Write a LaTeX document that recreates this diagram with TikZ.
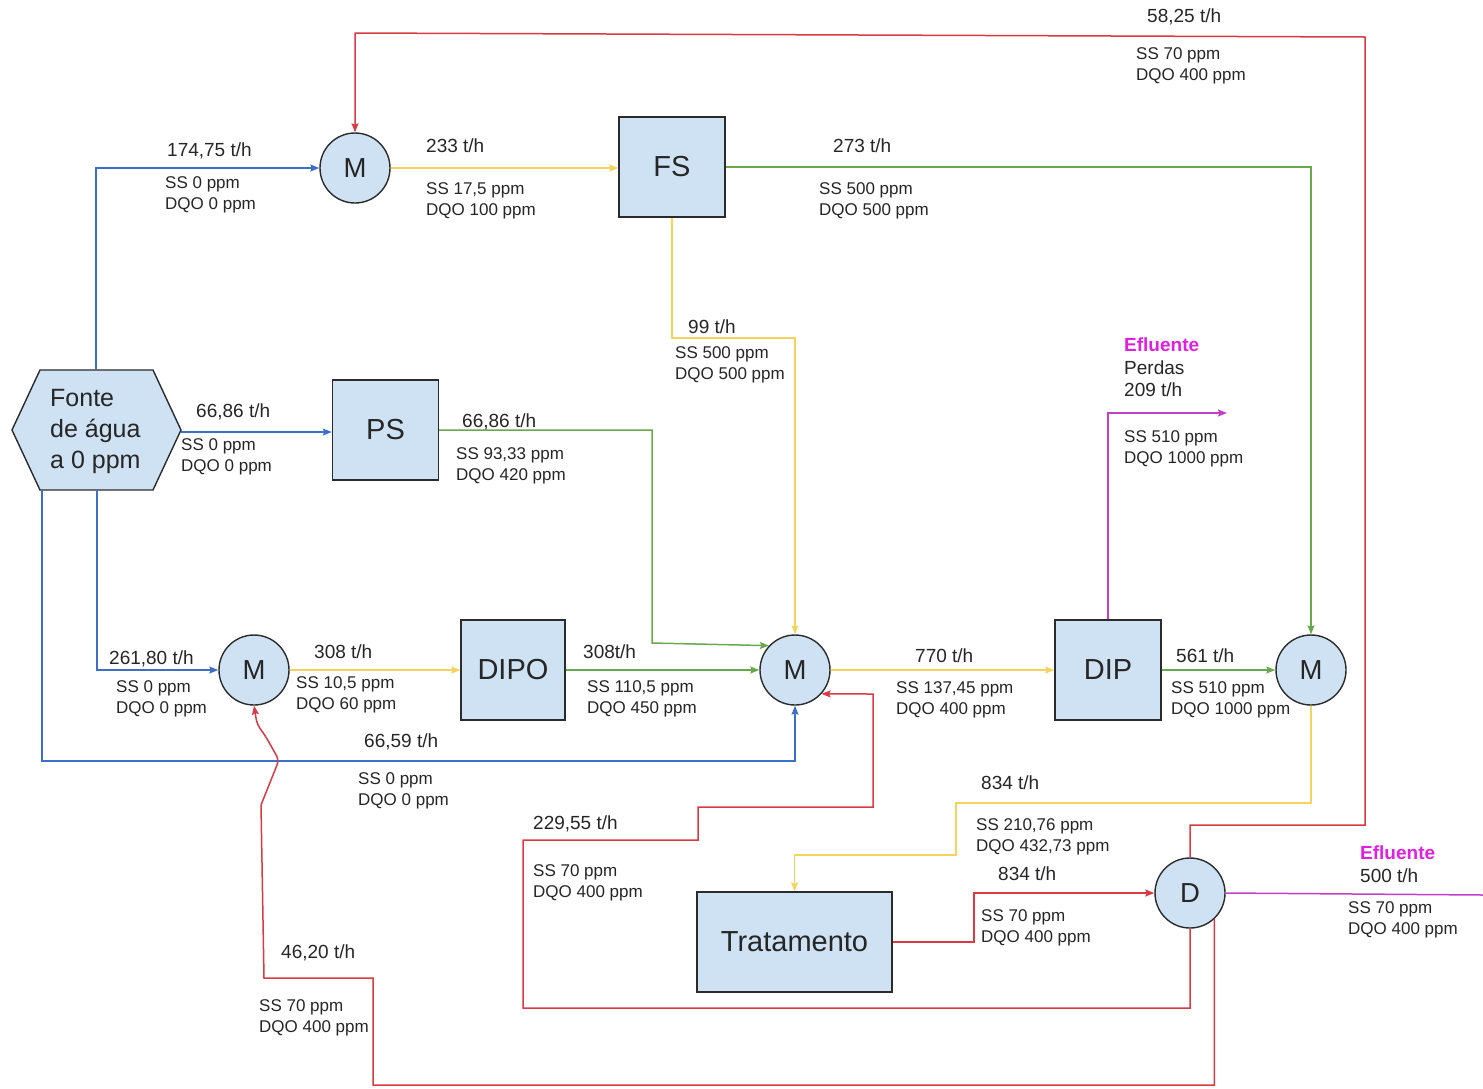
\documentclass[tikz,border=0pt]{standalone}
\usepackage{fontspec}
\setmainfont{Liberation Sans}
\usetikzlibrary{arrows.meta,calc}
\definecolor{nodefill}{HTML}{CFE2F3}
\definecolor{outline}{HTML}{2B2B2B}
\definecolor{txt}{HTML}{262626}
\definecolor{pipeblue}{HTML}{3D6FC6}
\definecolor{pipered}{HTML}{D93A45}
\definecolor{pipegreen}{HTML}{6AA84F}
\definecolor{pipeyellow}{HTML}{F4D35E}
\definecolor{pipemag}{HTML}{C23FC8}
\definecolor{efl}{HTML}{E020E0}

\begin{document}
\begin{tikzpicture}[x=1pt,y=-1pt,
  unit/.style={draw=outline, line width=1.4pt, fill=nodefill, minimum width=106pt,
    minimum height=100pt, inner sep=0pt, text=txt, font=\fontsize{29}{32}\selectfont},
  mixer/.style={circle, draw=outline, line width=1.4pt, fill=nodefill, minimum size=70pt,
    inner sep=0pt, text=txt, font=\fontsize{27.5}{30}\selectfont},
  pipe/.style={line width=1.5pt, -{Stealth[length=9pt,width=7pt,inset=1.5pt]}},
  bpipe/.style={pipe, draw=pipeblue},
  rpipe/.style={pipe, draw=pipered},
  gpipe/.style={pipe, draw=pipegreen},
  ypipe/.style={pipe, draw=pipeyellow},
  mpipe/.style={pipe, draw=pipemag},
  rate/.style={anchor=west, inner sep=0pt, text=txt, font=\fontsize{19}{22}\selectfont},
  conc/.style={anchor=north west, align=left, inner sep=0pt, text=txt,
    font=\fontsize{17}{21}\selectfont},
  outlet/.style={anchor=north west, align=left, inner sep=0pt, text=txt,
    font=\fontsize{19}{22.5}\selectfont},
]
\useasboundingbox[fill=white] (0,0) rectangle (1483,1088);

% water source (hexagon)
\draw[draw=outline, line width=1.4pt, fill=nodefill]
  (40,370) -- (153,370) -- (181,430) -- (153,490) -- (40,490) -- (12,430) -- cycle;
\node[anchor=west, align=left, inner sep=0pt, text=txt, font=\fontsize{25}{31}\selectfont]
  (src) at (50,431) {Fonte\\de água\\a 0 ppm};
\coordinate (srcTop) at (96,370);
\coordinate (srcRight) at (181,432);
\coordinate (srcBotA) at (97,490);
\coordinate (srcBotB) at (42,490);

% process units and mixers
\node[mixer] (mTop) at (355,168) {M};
\node[unit] (fs) at (672,167) {FS};
\node[unit] (ps) at (385.5,430) {PS};
\node[mixer] (mBL) at (254,670) {M};
\node[unit, minimum width=104pt] (dipo) at (513,670) {DIPO};
\node[mixer] (mC) at (795,670) {M};
\node[unit] (dip) at (1108,670) {DIP};
\node[mixer] (mR) at (1311,670) {M};
\node[unit, minimum width=195pt] (trat) at (794.5,942) {Tratamento};
\node[mixer] (dv) at (1190,893) {D};

\coordinate (lossEnd) at (1227,413);
\coordinate (effEnd) at (1483,895);

% fresh water lines
\draw[bpipe] (srcTop) |- (mTop);
\draw[bpipe] (srcRight) -- (ps.west |- srcRight);
\draw[bpipe] (srcBotA) |- (mBL);
\draw[bpipe] (srcBotB) -- (42,761) -| (mC.south);

% process lines
\draw[ypipe] (mTop.east) -- (fs.west |- mTop.east);
\draw[gpipe] (fs.east) -| (mR.north);
\draw[ypipe] (fs.south) |- (mC.north |- 0,338) -- (mC.north);
\draw[gpipe] (ps.east) -- (652,430) -- (652,643) -- (mC.137);
\draw[ypipe] (mBL) -- (dipo);
\draw[gpipe] (dipo) -- (mC);
\draw[ypipe] (mC) -- (dip);
\draw[gpipe] (dip) -- (mR);
\draw[mpipe] (dip.north) |- (lossEnd);
\draw[ypipe] (mR.south) -- (1311,803) -- (956,803) -- (956,855) -| (trat.north);
\draw[rpipe] (trat.east) -- (974,942) |- (dv);
\draw[mpipe, -] (dv.east) -- (effEnd);

% recycled water
\draw[rpipe] (dv.north) |- (1365,825) -- (1365,37) -- (355,33) -- (mTop.north);
\draw[rpipe] (dv.south) -- (1190,1008) -- (523,1008) -- (523,840) -- (698,840)
  -- (698,807) -- (873,807) -- (873,694) -- (mC.-42);
\draw[rpipe] (dv.-47) |- (373,1085) -- (373,978) -- (264,978) -- (261,805)
  [rounded corners=5pt] -- (279,760) -- (266,737) -- (257,724) -- (mBL.south);

% stream labels
\node[rate] (l1) at (167,151) {174,75 t/h};
\node[conc] (c1) at (165,176) {SS 0 ppm\\DQO 0 ppm};
\node[rate] (l2) at (426,146) {233 t/h};
\node[conc] (c2) at (426,182) {SS 17,5 ppm\\DQO 100 ppm};
\node[rate] (l3) at (833,146) {273 t/h};
\node[conc] (c3) at (819,182) {SS 500 ppm\\DQO 500 ppm};
\node[rate] (l4) at (1147,17) {58,25 t/h};
\node[conc] (c4) at (1136,47) {SS 70 ppm\\DQO 400 ppm};
\node[rate] (l5) at (688,327) {99 t/h};
\node[conc] (c5) at (675,346) {SS 500 ppm\\DQO 500 ppm};
\node[rate] (l6) at (196,412) {66,86 t/h};
\node[conc] (c6) at (181,438) {SS 0 ppm\\DQO 0 ppm};
\node[rate] (l7) at (462,422) {66,86 t/h};
\node[conc] (c7) at (456,447) {SS 93,33 ppm\\DQO 420 ppm};
\node[outlet] (o1) at (1124,338) {\textcolor{efl}{\bfseries Efluente}\\Perdas\\209 t/h};
\node[conc] (c8) at (1124,430) {SS 510 ppm\\DQO 1000 ppm};
\node[rate] (l9) at (109,659) {261,80 t/h};
\node[conc] (c9) at (116,680) {SS 0 ppm\\DQO 0 ppm};
\node[rate] (l10) at (314,652) {308 t/h};
\node[conc] (c10) at (296,676) {SS 10,5 ppm\\DQO 60 ppm};
\node[rate] (l11) at (583,652) {308t/h};
\node[conc] (c11) at (587,680) {SS 110,5 ppm\\DQO 450 ppm};
\node[rate] (l12) at (915,656) {770 t/h};
\node[conc] (c12) at (896,681) {SS 137,45 ppm\\DQO 400 ppm};
\node[rate] (l13) at (1176,656) {561 t/h};
\node[conc] (c13) at (1171,681) {SS 510 ppm\\DQO 1000 ppm};
\node[rate] (l14) at (364,742) {66,59 t/h};
\node[conc] (c14) at (358,772) {SS 0 ppm\\DQO 0 ppm};
\node[rate] (l15) at (981,783) {834 t/h};
\node[conc] (c15) at (976,818) {SS 210,76 ppm\\DQO 432,73 ppm};
\node[rate] (l16) at (533,824) {229,55 t/h};
\node[conc] (c16) at (533,864) {SS 70 ppm\\DQO 400 ppm};
\node[rate] (l17) at (998,874) {834 t/h};
\node[conc] (c17) at (981,909) {SS 70 ppm\\DQO 400 ppm};
\node[outlet] (o2) at (1360,846) {\textcolor{efl}{\bfseries Efluente}\\500 t/h};
\node[conc] (c18) at (1348,901) {SS 70 ppm\\DQO 400 ppm};
\node[rate] (l19) at (281,953) {46,20 t/h};
\node[conc] (c19) at (259,999) {SS 70 ppm\\DQO 400 ppm};
\end{tikzpicture}
\end{document}
